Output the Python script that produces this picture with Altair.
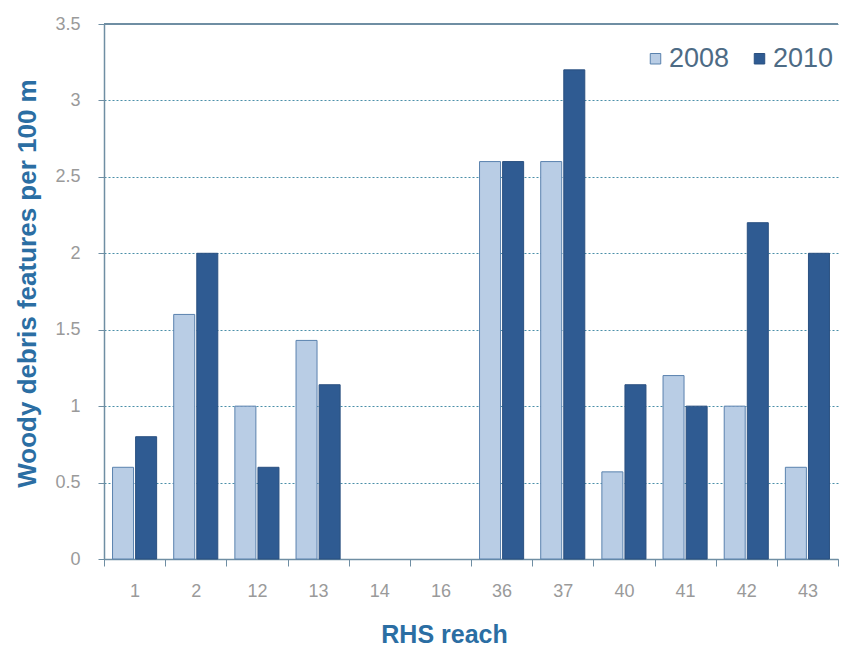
import altair as alt
import pandas as pd

reaches = ["1", "2", "12", "13", "14", "16", "36", "37", "40", "41", "42", "43"]
v2008 = [0.6, 1.6, 1.0, 1.43, 0, 0, 2.6, 2.6, 0.57, 1.2, 1.0, 0.6]
v2010 = [0.8, 2.0, 0.6, 1.14, 0, 0, 2.6, 3.2, 1.14, 1.0, 2.2, 2.0]
years = ["2008", "2010"]
y_ticks = [0, 0.5, 1, 1.5, 2, 2.5, 3, 3.5]

rows = []
for r, a, b in zip(reaches, v2008, v2010):
    rows.append({"reach": r, "year": "2008", "value": a})
    rows.append({"reach": r, "year": "2010", "value": b})
df = pd.DataFrame(rows)

W, H = 734, 535

bars = alt.Chart(df).mark_bar(strokeWidth=1).encode(
    x=alt.X("reach:N", sort=reaches,
            scale=alt.Scale(domain=reaches, paddingInner=0, paddingOuter=0),
            axis=alt.Axis(title="RHS reach", labelAngle=0, labelFont="Liberation Sans",
                          labelFontSize=18, labelColor="#9a9a9a", labelPadding=16,
                          tickBand="extent", ticks=True, tickSize=7, tickColor="#6f8ea3",
                          domainColor="#6f8ea3", domainWidth=1.5, grid=False,
                          titleFont="Liberation Sans", titleFontSize=25, titleFontWeight="bold",
                          titleColor="#2b6ea3", titleX=340, titleY=75,
                          titleAlign="center", titleBaseline="middle")),
    xOffset=alt.XOffset("year:N", sort=years,
                        scale=alt.Scale(domain=years, paddingInner=0.09, paddingOuter=0.37)),
    y=alt.Y("value:Q", scale=alt.Scale(domain=[0, 3.5], nice=False),
            axis=alt.Axis(title="Woody debris features per 100 m", values=y_ticks,
                          labelExpr="toString(datum.value)",
                          labelFont="Liberation Sans", labelFontSize=18,
                          labelColor="#9a9a9a", labelPadding=18, ticks=True, tickSize=6,
                          tickColor="#6f8ea3", domainColor="#6f8ea3", domainWidth=1.5,
                          grid=True, gridColor="#4a8fa8", gridDash=[2, 2], gridWidth=1,
                          titleFont="Liberation Sans", titleFontSize=26, titleFontWeight="bold",
                          titleColor="#2b6ea3", titleAngle=-90, titleX=-77, titleY=259,
                          titleAlign="center", titleBaseline="middle")),
    color=alt.Color("year:N", sort=years,
                    scale=alt.Scale(domain=years, range=["#b9cde5", "#2f5b92"]),
                    legend=alt.Legend(title=None, orient="none", legendX=538, legendY=21,
                                      direction="horizontal", symbolType="square",
                                      symbolSize=110, symbolStrokeWidth=1,
                                      labelFont="Liberation Sans", labelFontSize=27,
                                      labelColor="#4d6b85", columnPadding=16,
                                      labelOffset=0)),
    stroke=alt.Stroke("year:N", sort=years,
                      scale=alt.Scale(domain=years, range=["#5a82ae", "#2a5080"]),
                      legend=None),
).transform_filter("datum.value > 0")

top = alt.Chart(pd.DataFrame({"v": [3.5]})).mark_rule(color="#6f8ea3", strokeWidth=2).encode(
    y="v:Q", x=alt.value(0), x2=alt.value(W))

chart = alt.layer(bars, top).properties(
    width=W, height=H,
    autosize=alt.AutoSizeParams(type="none"),
    padding={"left": 104, "top": 24, "right": 9, "bottom": 89},
    background="white",
).configure_view(stroke=None)

chart.save("out.html", embed_options={"renderer": "svg", "actions": False})
